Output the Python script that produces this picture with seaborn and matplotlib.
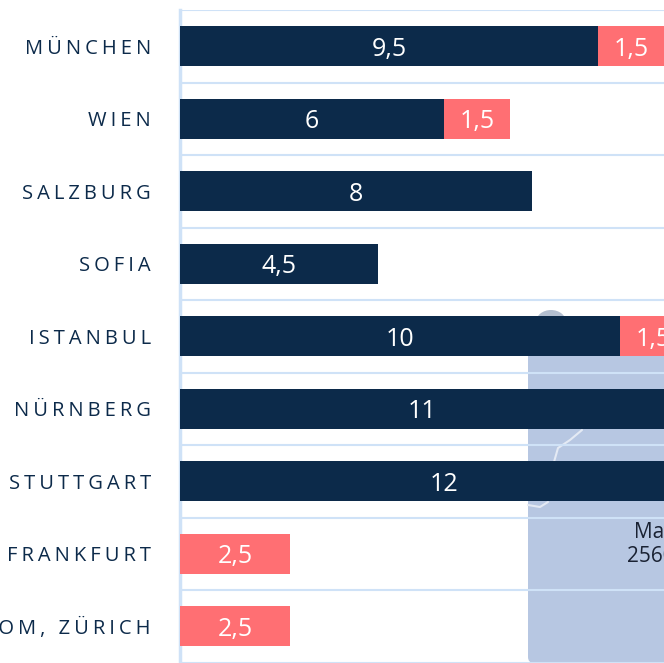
import matplotlib
matplotlib.use("Agg")
import matplotlib.pyplot as plt
from matplotlib.patches import FancyBboxPatch, Ellipse
import seaborn as sns

cities = ["MÜNCHEN", "WIEN", "SALZBURG", "SOFIA", "ISTANBUL", "NÜRNBERG", "STUTTGART", "FRANKFURT", "ROM, ZÜRICH"]
navy_values = [9.5, 6, 8, 4.5, 10, 11, 12, 0, 0]
red_values = [1.5, 1.5, 0, 0, 1.5, 0, 0, 2.5, 2.5]
navy_labels = ["9,5", "6", "8", "4,5", "10", "11", "12", "", ""]
red_labels = ["1,5", "1,5", "", "", "1,5", "", "", "2,5", "2,5"]

NAVY = "#0c2a4a"
RED = "#ff6f73"
GRID = "#cfe2f7"
MAP = "#b7c7e2"
W, H = 664, 663

sns.set_style("white")
plt.rcParams["font.family"] = ["Open Sans", "DejaVu Sans"]

fig = plt.figure(figsize=(W / 100, H / 100), dpi=100)
ax = fig.add_axes([180 / W, 1 - 662.5 / H, 484 / W, 652.5 / H])
ax.patch.set_alpha(0)

# map picture behind the chart
map_box = FancyBboxPatch((528, 0), 150, 330, boxstyle="round,pad=0,rounding_size=6",
                         transform=None, fc=MAP, lw=0, zorder=-2)
map_box.set_figure(fig)
fig.patches.append(map_box)
blob = Ellipse((551, H - 322), 30, 24, transform=None, fc="#b4bfd0", lw=0, zorder=-2)
blob.set_figure(fig)
fig.patches.append(blob)

# totals first, navy part on top, so the red stays as the stacked end
totals = [n + r for n, r in zip(navy_values, red_values)]
sns.barplot(x=totals, y=cities, color=RED, saturation=1, width=0.555, ax=ax, zorder=3, orient="y", linewidth=0)
sns.barplot(x=navy_values, y=cities, color=NAVY, saturation=1, width=0.555, ax=ax, zorder=4, orient="y", linewidth=0)

ax.set_xlim(0, 11)
ax.set_ylim(8.5, -0.5)
ax.set_xlabel("")
ax.set_ylabel("")
ax.set_xticks([])
ax.set_yticks(range(len(cities)))
ax.set_yticklabels(["\u200a\u200a".join(c) for c in cities], fontsize=14.5, color=NAVY)
ax.tick_params(axis="y", length=0, pad=21)
ax.set_yticks([i - 0.5 for i in range(len(cities) + 1)], minor=True)
ax.tick_params(axis="y", which="minor", length=0)
ax.grid(True, axis="y", which="minor", color=GRID, lw=1.5, zorder=1)
ax.set_axisbelow(True)

for s in ["top", "right", "bottom"]:
    ax.spines[s].set_visible(False)
ax.spines["left"].set_color(GRID)
ax.spines["left"].set_linewidth(2.5)

# value labels
for i in range(len(cities)):
    if navy_labels[i]:
        ax.text(navy_values[i] / 2, i, navy_labels[i], color="white", fontsize=18,
                ha="center", va="center_baseline", zorder=6)
    if red_labels[i]:
        ax.text(navy_values[i] + red_values[i] / 2, i, red_labels[i], color="white", fontsize=18,
                ha="center", va="center_baseline", zorder=6, clip_on=False)

# river lines and map caption
fig.add_artist(plt.Line2D([582 / W, 570 / W, 558 / W, 554 / W], [1 - 430 / H, 1 - 440 / H, 1 - 448 / H, 1 - 462 / H],
                          color="#e4eaf4", lw=1.5, zorder=-1))
fig.add_artist(plt.Line2D([528 / W, 540 / W, 548 / W], [1 - 505 / H, 1 - 507 / H, 1 - 502 / H],
                          color="#e4eaf4", lw=1.5, zorder=-1))
fig.text(634 / W, 1 - 532 / H, "Ma", color="#1a2233", fontsize=15, ha="left", va="center")
fig.text(627 / W, 1 - 557 / H, "2560", color="#1a2233", fontsize=15, ha="left", va="center")

fig.savefig("out.png", dpi=100)
